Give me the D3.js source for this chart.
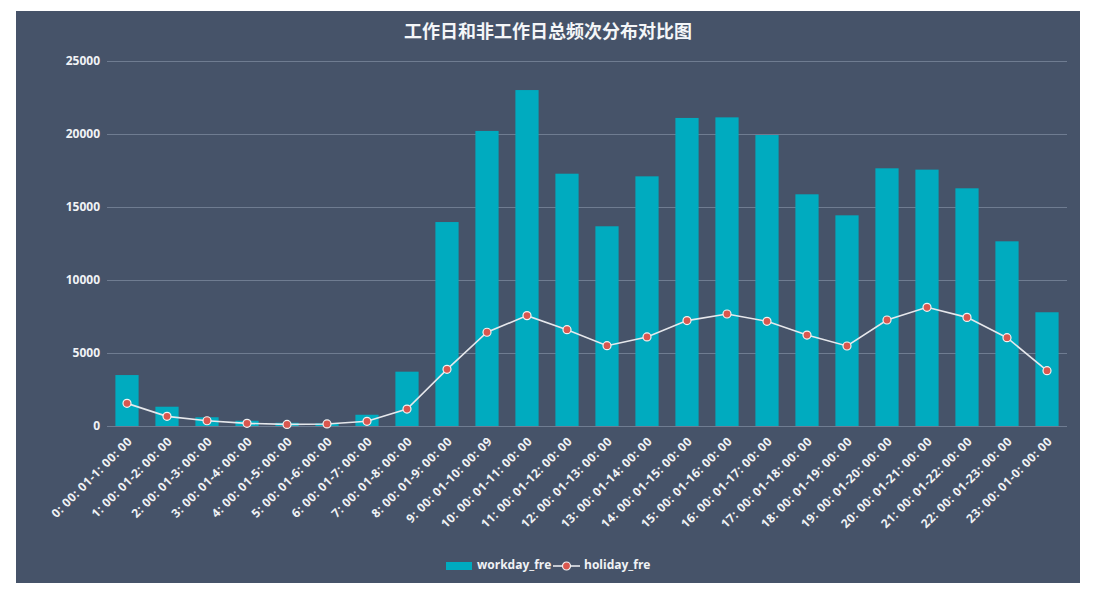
<!DOCTYPE html>
<html>
<head>
<meta charset="utf-8">
<script src="https://cdn.jsdelivr.net/npm/d3@7"></script>
<style>
  body { margin: 0; background: #fff; }
  svg text { font-family: "Noto Sans CJK SC", "Noto Sans", sans-serif; }
</style>
</head>
<body>
<div class="chart"></div>
<script>
var hours = [
  "0: 00: 01-1: 00: 00", "1: 00: 01-2: 00: 00", "2: 00: 01-3: 00: 00",
  "3: 00: 01-4: 00: 00", "4: 00: 01-5: 00: 00", "5: 00: 01-6: 00: 00",
  "6: 00: 01-7: 00: 00", "7: 00: 01-8: 00: 00", "8: 00: 01-9: 00: 00",
  "9: 00: 01-10: 00: 09", "10: 00: 01-11: 00: 00", "11: 00: 01-12: 00: 00",
  "12: 00: 01-13: 00: 00", "13: 00: 01-14: 00: 00", "14: 00: 01-15: 00: 00",
  "15: 00: 01-16: 00: 00", "16: 00: 01-17: 00: 00", "17: 00: 01-18: 00: 00",
  "18: 00: 01-19: 00: 00", "19: 00: 01-20: 00: 00", "20: 00: 01-21: 00: 00",
  "21: 00: 01-22: 00: 00", "22: 00: 01-23: 00: 00", "23: 00: 01-0: 00: 00"
];
var workdayFre = [3490, 1320, 600, 360, 220, 180, 770, 3720, 13970, 20210,
  23010, 17280, 13680, 17100, 21100, 21140, 19930, 15870, 14430, 17650,
  17560, 16280, 12650, 7790];
var holidayFre = [1550, 660, 360, 180, 110, 140, 320, 1160, 3880, 6420,
  7560, 6600, 5500, 6100, 7220, 7670, 7170, 6230, 5480, 7260,
  8130, 7440, 6050, 3790];
var yTicks = [0, 5000, 10000, 15000, 20000, 25000];

var W = 1096, H = 598;
var panel = { x: 16, y: 11, w: 1064, h: 572 };
var plot = { left: 107, right: 1067, top: 61, bottom: 426 };

var svg = d3.select(".chart").append("svg")
  .attr("width", W).attr("height", H);

svg.append("rect")
  .attr("x", panel.x).attr("y", panel.y)
  .attr("width", panel.w).attr("height", panel.h)
  .attr("fill", "#465369");

svg.append("text")
  .attr("x", 548).attr("y", 33)
  .attr("text-anchor", "middle").attr("dominant-baseline", "middle")
  .attr("fill", "#f4f6f8").attr("font-size", 18).attr("font-weight", "bold")
  .text("工作日和非工作日总频次分布对比图");

var x = d3.scaleBand().domain(hours)
  .range([plot.left, plot.right])
  .paddingInner(0.42).paddingOuter(0.21);
var y = d3.scaleLinear().domain([0, 25000]).range([plot.bottom, plot.top]);

// grid + y labels
var yAxis = svg.append("g")
  .attr("transform", `translate(${plot.left},0)`)
  .call(d3.axisLeft(y).tickValues(yTicks).tickFormat(d3.format("d"))
    .tickSize(-(plot.right - plot.left)).tickPadding(7));
yAxis.select(".domain").remove();
yAxis.selectAll(".tick line").attr("stroke", "#6f7c91").attr("stroke-width", 1.2);
yAxis.selectAll(".tick text")
  .attr("fill", "#f0f2f5").attr("font-size", 12).attr("font-weight", "bold")
  .style("font-family", "'Open Sans', sans-serif");

// bars
svg.append("g").selectAll("rect").data(workdayFre).join("rect")
  .attr("x", (d, i) => x(hours[i]))
  .attr("y", d => y(d))
  .attr("width", x.bandwidth())
  .attr("height", d => y(0) - y(d))
  .attr("fill", "#00abbf");

// x labels
var xAxis = svg.append("g")
  .attr("transform", `translate(0,${plot.bottom})`)
  .call(d3.axisBottom(x).tickSize(0).tickPadding(0));
xAxis.select(".domain").remove();
xAxis.selectAll(".tick text")
  .attr("fill", "#f0f2f5").attr("font-size", 12).attr("font-weight", "bold")
  .style("font-family", "'Open Sans', sans-serif")
  .style("letter-spacing", "0.5px")
  .attr("text-anchor", "end")
  .attr("dy", "0.35em")
  .attr("transform", "translate(3,13) rotate(-45)");

// holiday line
var cx = (d, i) => x(hours[i]) + x.bandwidth() / 2;
var line = d3.line().x(cx).y(d => y(d));
svg.append("path").datum(holidayFre)
  .attr("d", line)
  .attr("fill", "none").attr("stroke", "#e6e8ec").attr("stroke-width", 1.6);
svg.append("g").selectAll("circle").data(holidayFre).join("circle")
  .attr("cx", cx).attr("cy", d => y(d)).attr("r", 4)
  .attr("fill", "#d9574f").attr("stroke", "#f2f2f2").attr("stroke-width", 1.2);

// legend
var lg = svg.append("g").attr("transform", "translate(0,566)");
lg.append("rect").attr("x", 446).attr("y", -4).attr("width", 26).attr("height", 8)
  .attr("fill", "#00abbf");
lg.append("text").attr("x", 477).attr("y", 0).attr("dominant-baseline", "middle")
  .attr("fill", "#f0f2f5").attr("font-size", 12).attr("font-weight", "bold")
  .style("font-family", "'Open Sans', sans-serif")
  .text("workday_fre");
lg.append("line").attr("x1", 553).attr("x2", 580).attr("y1", 0).attr("y2", 0)
  .attr("stroke", "#e6e8ec").attr("stroke-width", 1.6);
lg.append("circle").attr("cx", 566.5).attr("cy", 0).attr("r", 4)
  .attr("fill", "#d9574f").attr("stroke", "#f2f2f2").attr("stroke-width", 1.2);
lg.append("text").attr("x", 584).attr("y", 0).attr("dominant-baseline", "middle")
  .attr("fill", "#f0f2f5").attr("font-size", 12).attr("font-weight", "bold")
  .style("font-family", "'Open Sans', sans-serif")
  .text("holiday_fre");
</script>
</body>
</html>
